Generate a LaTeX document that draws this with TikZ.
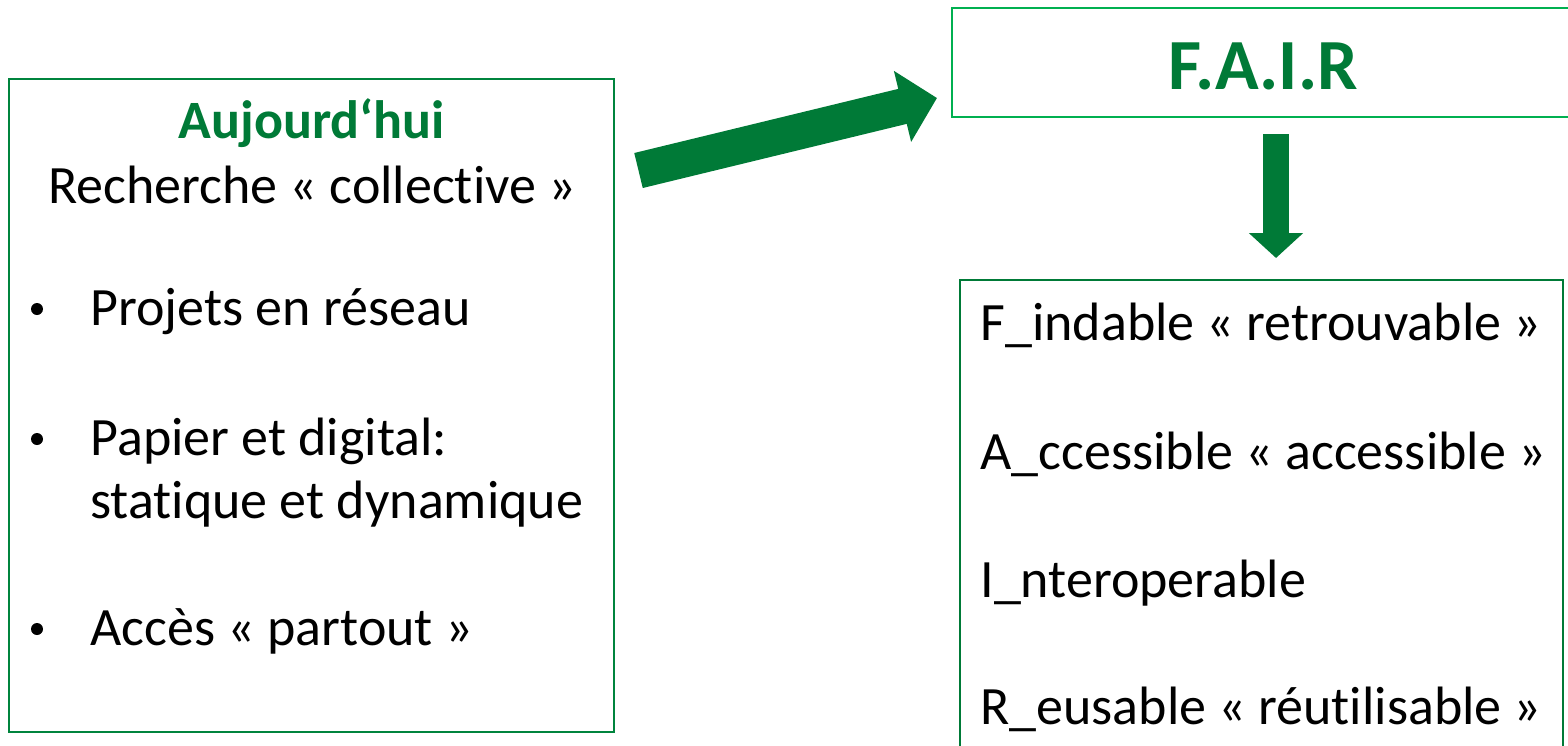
\documentclass[tikz,border=0pt]{standalone}
\usepackage{fontspec}
\setmainfont{Carlito}[Ligatures=NoCommon]
\usetikzlibrary{arrows.meta}
\definecolor{fairgreen}{RGB}{0,122,55}
\definecolor{boxgreen}{RGB}{0,132,61}
\definecolor{lightgreen}{RGB}{0,176,80}
\begin{document}
\begin{tikzpicture}[x=0.5pt,y=-0.5pt,
  frame/.style={draw, line width=1pt, inner sep=0pt},
  body/.style={font=\fontsize{27}{32}\selectfont, inner sep=0pt},
  headline/.style={body, font=\fontsize{27}{32}\selectfont\bfseries, text=fairgreen},
  bulletmark/.style={circle, fill=black, inner sep=0pt, minimum size=6pt},
  bigarrow/.style={draw=fairgreen, line cap=butt}
]
\clip (0,0) rectangle (1568,745);
\fill[white] (0,0) rectangle (1568,745);

% left box: today's research
\node[frame, draw=boxgreen, minimum width=302.5pt, minimum height=326.5pt] (left) at (311.5,405.5) {};
\node[headline, anchor=base] (today) at (312,138) {Aujourd‘hui};
\node[body, anchor=base] (collective) at (312,203) {Recherche « collective »};
\node[bulletmark] (b1) at (37,309) {};
\node[body, anchor=base west] (t1) at (90,325) {Projets en réseau};
\node[bulletmark] (b2) at (37,439) {};
\node[body, anchor=base west] (t2) at (90,455) {Papier et digital:};
\node[body, anchor=base west] (t2b) at (90,518) {statique et dynamique};
\node[bulletmark] (b3) at (37,629) {};
\node[body, anchor=base west] (t3) at (90,645) {Accès « partout »};

% FAIR title box
\node[frame, draw=lightgreen, minimum width=311.5pt, minimum height=54.5pt] (fairbox) at (1263.5,62.5) {};
\node[body, font=\fontsize{36}{42}\selectfont\bfseries, text=fairgreen, anchor=base] (fair) at (1263,89) {F.A.I.R};

% principles box
\node[frame, draw=fairgreen, minimum width=301.5pt, minimum height=240pt] (principles) at (1261.5,520) {};
\node[body, anchor=base west] (pf) at (980,340) {F\_indable « retrouvable »};
\node[body, anchor=base west] (pa) at (980,469) {A\_ccessible « accessible »};
\node[body, anchor=base west] (pi) at (980,597) {I\_nteroperable};
\node[body, anchor=base west] (pr) at (980,724) {R\_eusable « réutilisable »};

% block arrows
\coordinate (diagtail) at (638.5,170.5);
\coordinate (diagtip) at (937,98);
\draw[bigarrow, line width=18pt, -{Triangle[length=17.75pt, width=35.5pt, fill=fairgreen]}] (diagtail) -- (diagtip);

\coordinate (downtail) at (1276,134);
\coordinate (downtip) at (1276,258);
\draw[bigarrow, line width=13pt, -{Triangle[length=12.5pt, width=26.5pt, fill=fairgreen]}] (downtail) -- (downtip);
\end{tikzpicture}
\end{document}
